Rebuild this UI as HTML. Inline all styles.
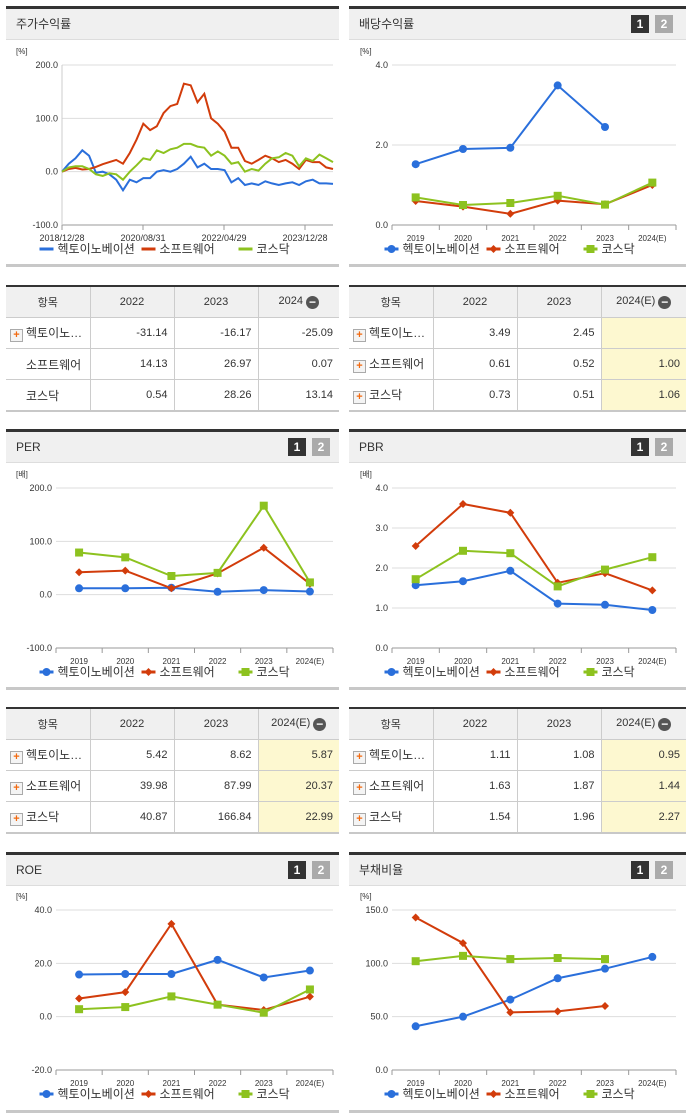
<!DOCTYPE html>
<html><head><meta charset="utf-8">
<style>
body{margin:0;width:691px;height:1115px;background:#fff;position:relative;overflow:hidden;font-family:"Liberation Sans","Noto Sans CJK KR",sans-serif;color:#333}
.panel{position:absolute;border-top:3px solid #333;border-bottom:3px solid #c8c8c8;box-sizing:border-box}
.hdr{height:30px;background:#f0f0f0;border-bottom:1px solid #ddd;font-size:12px;line-height:30px;padding-left:10px;position:relative}
.badge{position:absolute;top:6px;width:18px;height:18px;font-size:12px;font-weight:bold;color:#fff;text-align:center;line-height:18px}
table{position:absolute;border-collapse:collapse;table-layout:fixed;font-size:11px;border-top:2px solid #333;border-bottom:2px solid #c8c8c8}
td,th{border:1px solid #ccc;height:30px;padding:0 6px;overflow:hidden;white-space:nowrap}
th{background:#f0f0f0;font-weight:normal;text-align:center}
td{text-align:right}
td.n{text-align:left;padding-left:4px;font-size:12px}
tr>*:first-child{border-left:none} tr>*:last-child{border-right:none}
.pl{display:inline-block;width:11px;height:11px;border:1px solid #aaa;background:#f4f4f4;color:#f26a10;font-size:11px;line-height:10px;text-align:center;font-weight:bold;margin-right:3px;vertical-align:-1px}
.mi{display:inline-block;width:13px;height:13px;border-radius:50%;background:#555;color:#fff;line-height:12px;font-size:12px;font-weight:bold;vertical-align:-2px;margin-left:3px}
.y{background:#fdf8d0}
svg{position:absolute;left:0;top:0}
</style></head><body>
<div class="panel" style="left:6px;top:6px;width:333px;height:261px"><div class="hdr">주가수익률</div></div>
<div class="panel" style="left:349px;top:6px;width:337px;height:261px"><div class="hdr">배당수익률<span class="badge" style="left:282px;background:#333">1</span><span class="badge" style="left:306px;background:#aaa">2</span></div></div>
<div class="panel" style="left:6px;top:429px;width:333px;height:261px"><div class="hdr">PER<span class="badge" style="left:282px;background:#333">1</span><span class="badge" style="left:306px;background:#aaa">2</span></div></div>
<div class="panel" style="left:349px;top:429px;width:337px;height:261px"><div class="hdr">PBR<span class="badge" style="left:282px;background:#333">1</span><span class="badge" style="left:306px;background:#aaa">2</span></div></div>
<div class="panel" style="left:6px;top:852px;width:333px;height:261px"><div class="hdr">ROE<span class="badge" style="left:282px;background:#333">1</span><span class="badge" style="left:306px;background:#aaa">2</span></div></div>
<div class="panel" style="left:349px;top:852px;width:337px;height:261px"><div class="hdr">부채비율<span class="badge" style="left:282px;background:#333">1</span><span class="badge" style="left:306px;background:#aaa">2</span></div></div>

<table style="left:6px;top:285px;width:333px">
<colgroup><col style="width:84px"><col style="width:84px"><col style="width:84px"><col style="width:81px"></colgroup>
<tr><th>항목</th><th>2022</th><th>2023</th><th>2024<span class="mi">−</span></th></tr>
<tr><td class="n"><span class="pl">+</span>헥토이노…</td><td>-31.14</td><td>-16.17</td><td>-25.09</td></tr>
<tr><td class="n" style="padding-left:20px">소프트웨어</td><td>14.13</td><td>26.97</td><td>0.07</td></tr>
<tr><td class="n" style="padding-left:20px">코스닥</td><td>0.54</td><td>28.26</td><td>13.14</td></tr></table>
<table style="left:349px;top:285px;width:337px">
<colgroup><col style="width:84px"><col style="width:84px"><col style="width:84px"><col style="width:85px"></colgroup>
<tr><th>항목</th><th>2022</th><th>2023</th><th>2024(E)<span class="mi">−</span></th></tr>
<tr><td class="n"><span class="pl">+</span>헥토이노…</td><td>3.49</td><td>2.45</td><td class="y"></td></tr>
<tr><td class="n"><span class="pl">+</span>소프트웨어</td><td>0.61</td><td>0.52</td><td class="y">1.00</td></tr>
<tr><td class="n"><span class="pl">+</span>코스닥</td><td>0.73</td><td>0.51</td><td class="y">1.06</td></tr></table>
<table style="left:6px;top:707px;width:333px">
<colgroup><col style="width:84px"><col style="width:84px"><col style="width:84px"><col style="width:81px"></colgroup>
<tr><th>항목</th><th>2022</th><th>2023</th><th>2024(E)<span class="mi">−</span></th></tr>
<tr><td class="n"><span class="pl">+</span>헥토이노…</td><td>5.42</td><td>8.62</td><td class="y">5.87</td></tr>
<tr><td class="n"><span class="pl">+</span>소프트웨어</td><td>39.98</td><td>87.99</td><td class="y">20.37</td></tr>
<tr><td class="n"><span class="pl">+</span>코스닥</td><td>40.87</td><td>166.84</td><td class="y">22.99</td></tr></table>
<table style="left:349px;top:707px;width:337px">
<colgroup><col style="width:84px"><col style="width:84px"><col style="width:84px"><col style="width:85px"></colgroup>
<tr><th>항목</th><th>2022</th><th>2023</th><th>2024(E)<span class="mi">−</span></th></tr>
<tr><td class="n"><span class="pl">+</span>헥토이노…</td><td>1.11</td><td>1.08</td><td class="y">0.95</td></tr>
<tr><td class="n"><span class="pl">+</span>소프트웨어</td><td>1.63</td><td>1.87</td><td class="y">1.44</td></tr>
<tr><td class="n"><span class="pl">+</span>코스닥</td><td>1.54</td><td>1.96</td><td class="y">2.27</td></tr></table>

<svg id="s" width="691" height="1115"></svg>
<script>
const years=["2019","2020","2021","2022","2023","2024(E)"];
const stockDates=["2018/12/28","2020/08/31","2022/04/29","2023/12/28"];
const stockHecto=[0,15,25,40,30,-2,0,-5,-15,-35,-15,-20,-12,-12,0,3,0,5,15,28,8,15,5,5,3,-20,-12,-25,-22,-25,-18,-22,-25,-22,-20,-25,-18,-15,-22,-22,-23];
const stockSoft=[0,5,7,4,5,9,14,18,22,15,35,60,90,78,85,110,123,127,165,162,130,146,100,90,75,45,45,20,15,22,30,25,18,22,15,5,22,18,18,8,5];
const stockKosdaq=[0,8,10,10,5,-5,-8,-3,-5,-15,0,12,25,22,40,35,42,45,52,52,47,45,30,38,30,15,18,0,5,2,15,25,27,35,30,10,25,20,32,25,18];
const divHecto=[1.52,1.9,1.93,3.49,2.45,null];
const divSoft=[0.6,0.46,0.28,0.61,0.52,1.00];
const divKosdaq=[0.69,0.5,0.55,0.73,0.51,1.06];
const perHecto=[12,12,13,5.42,8.62,5.87];
const perSoft=[42,45,12,39.98,87.99,20.37];
const perKosdaq=[79,70,35,40.87,166.84,22.99];
const pbrHecto=[1.57,1.67,1.93,1.11,1.08,0.95];
const pbrSoft=[2.55,3.6,3.38,1.63,1.87,1.44];
const pbrKosdaq=[1.72,2.43,2.37,1.54,1.96,2.27];
const roeHecto=[15.8,16,16,21.3,14.7,17.3];
const roeSoft=[6.8,9.2,34.8,4.5,2.5,7.5];
const roeKosdaq=[2.8,3.6,7.6,4.5,1.5,10.2];
const debtHecto=[41,50,66,86,95,106];
const debtSoft=[143,119,54,55,60,null];
const debtKosdaq=[102,107,104,105,104,null];
const names=["헥토이노베이션","소프트웨어","코스닥"];
const colors=["#2a6fdb","#d23c0b","#8dc21f"];
const NS="http://www.w3.org/2000/svg";
const svg=document.getElementById('s');
function el(t,a,p){const e=document.createElementNS(NS,t);for(const k in a)e.setAttribute(k,a[k]);(p||svg).appendChild(e);return e;}
function txt(x,y,s,anchor,size,fill){const t=el('text',{x:x,y:y,'text-anchor':anchor||'start','font-size':size||9,fill:fill||'#333','font-family':'Liberation Sans, Noto Sans CJK KR, sans-serif'});t.textContent=s;return t;}
function marker(g,i,x,y){
  let m;
  if(i==0){m=el('circle',{cx:x,cy:y,r:4,fill:colors[0]},g);}
  else if(i==1){m=el('path',{d:`M${x} ${y-4}L${x+4} ${y}L${x} ${y+4}L${x-4} ${y}Z`,fill:colors[1]},g);}
  else{m=el('rect',{x:x-4,y:y-4,width:8,height:8,fill:colors[2]},g);}
  
  
}
function chart(o){
  const g=el('g',{});
  
  
  const T=o.top, y0=T+57, y1=T+217;
  const ys=v=>y1-(v-o.min)/(o.max-o.min)*(y1-y0);
  txt(o.unitX,T+46,o.unit,'start',8);
  o.ticks.forEach(v=>{const y=ys(v);
    el('line',{x1:o.xL,x2:o.xR,y1:y,y2:y,stroke:v==o.min?'#999':'#ddd','stroke-width':1},g);
    const l=txt(o.xL-4,y+3,v.toFixed(1),'end',9);});
  el('line',{x1:o.xL,x2:o.xL,y1:y1,y2:y1+5,stroke:'#999'},g);
  if(o.cats){
    const w=(o.xR-o.xL)/o.cats.length, xs=i=>o.xL+w*(i+0.5);
    o.cats.forEach((c,i)=>{el('line',{x1:o.xL+w*(i+1),x2:o.xL+w*(i+1),y1:y1,y2:y1+5,stroke:'#999'},g);
      const l=txt(xs(i),y1+16,c,'middle',8);});
    o.series.forEach((s,si)=>{let d='';s.forEach((v,i)=>{if(v==null)return;d+=(d?'L':'M')+xs(i)+' '+ys(v);});
      const p=el('path',{d:d,fill:'none',stroke:colors[si],'stroke-width':2},g);
      s.forEach((v,i)=>{if(v!=null)marker(g,si,xs(i),ys(v));});});
  }else{
    const n=o.series[0].length, xs=i=>o.xL+i*(o.xR-o.xL)/(n-1);
    o.dates.forEach((c,i)=>{const x=o.xL+i*81;el('line',{x1:x,x2:x,y1:y1,y2:y1+5,stroke:'#999'},g);
      const l=txt(x,y1+16,c,'middle',9);});
    el('line',{x1:o.xL,x2:o.xL,y1:y0,y2:y1,stroke:'#ccc'},g);
    o.series.forEach((s,si)=>{let d='';s.forEach((v,i)=>{d+=(i?'L':'M')+xs(i).toFixed(1)+' '+ys(v).toFixed(1);});
      const p=el('path',{d:d,fill:'none',stroke:colors[si],'stroke-width':2},g);});
  }
  const cx=(o.pL+o.pR)/2, ly=T+245;
  const widths=[80,75,45]; let x=cx-(80+75+45+3*22)/2;
  names.forEach((nm,i)=>{const lg=el('g',{},g);
    
    
    el('line',{x1:x,x2:x+14,y1:ly-4,y2:ly-4,stroke:colors[i],'stroke-width':3},lg);
    if(o.cats)marker(lg,i,x+7,ly-4);
    txt(x+18,ly,nm,'start',12,'#333');
    x+=widths[i]+22;});
}
chart({name:'stock-return-chart',top:8,xL:62,xR:333,pL:6,pR:339,min:-100,max:200,ticks:[-100,0,100,200],unit:'[%]',unitX:16,dates:stockDates,series:[stockHecto,stockSoft,stockKosdaq]});
chart({name:'dividend-chart',top:8,xL:392,xR:676,pL:349,pR:686,min:0,max:4,ticks:[0,2,4],unit:'[%]',unitX:360,cats:years,series:[divHecto,divSoft,divKosdaq]});
chart({name:'per-chart',top:431,xL:56,xR:333,pL:6,pR:339,min:-100,max:200,ticks:[-100,0,100,200],unit:'[배]',unitX:16,cats:years,series:[perHecto,perSoft,perKosdaq]});
chart({name:'pbr-chart',top:431,xL:392,xR:676,pL:349,pR:686,min:0,max:4,ticks:[0,1,2,3,4],unit:'[배]',unitX:360,cats:years,series:[pbrHecto,pbrSoft,pbrKosdaq]});
chart({name:'roe-chart',top:853,xL:56,xR:333,pL:6,pR:339,min:-20,max:40,ticks:[-20,0,20,40],unit:'[%]',unitX:16,cats:years,series:[roeHecto,roeSoft,roeKosdaq]});
chart({name:'debt-chart',top:853,xL:392,xR:676,pL:349,pR:686,min:0,max:150,ticks:[0,50,100,150],unit:'[%]',unitX:360,cats:years,series:[debtHecto,debtSoft,debtKosdaq]});
</script>
</body></html>
